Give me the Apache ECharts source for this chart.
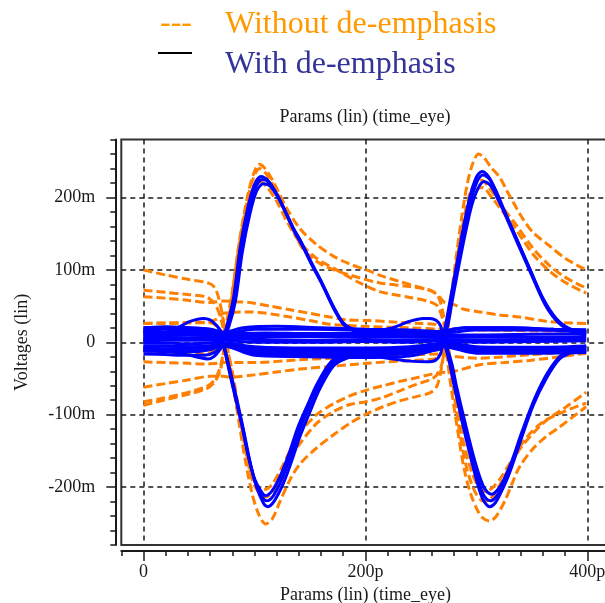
<!DOCTYPE html>
<html>
<head>
<meta charset="utf-8">
<script src="https://cdn.jsdelivr.net/npm/echarts@6/dist/echarts.min.js"></script>
<style>
html,body{margin:0;padding:0;background:#fff}
#chart{width:605px;height:603px}
</style>
</head>
<body>
<div id="chart"></div>
<script>
// Eye diagram: time in ps (x), voltage in mV (y). Each trace is a list of [t, v] points.

const xTickValues = [0, 200, 400];
const yTickValues = [-200, -100, 0, 100, 200];
const titleText = 'Params (lin) (time_eye)';
const yName = 'Voltages (lin)';
const legendOrange = 'Without de-emphasis';
const legendBlue = 'With de-emphasis';

// ---------- without de-emphasis (dashed orange) ----------
const o1 = [[0,100],[20,93],[40,87],[58,82],[64,76],[68,60],[72,30],[76,-10],[80,-50],[86,-110],[92,-165],[98,-210],[104,-238],[110,-251],[116,-244],[123,-220],[132,-190],[141,-168],[156,-146],[171,-128],[186,-112],[201,-99],[216,-89],[231,-81],[246,-75],[258,-70],[264,-62],[268,-40],[272,0],[277,60],[282,120],[287,175],[292,220],[297,248],[302,260],[307,255],[313,242],[321,228],[328,208],[336,186],[343,168],[351,152],[366,133],[381,115],[399,100]];
const o2 = [[0,72],[20,69],[40,66],[56,63],[62,57],[67,45],[71,25],[75,-5],[80,-40],[86,-95],[92,-150],[98,-190],[104,-208],[110,-214],[116,-208],[123,-190],[132,-160],[141,-140],[156,-112],[171,-96],[186,-86],[201,-82],[216,-76],[231,-67],[246,-58],[258,-52],[264,-46],[268,-35],[272,-5],[277,50],[282,110],[288,165],[294,205],[300,222],[305,224],[311,214],[318,200],[326,182],[336,162],[351,130],[366,106],[381,89],[399,75]];
const o3 = [[0,63],[20,61],[40,58],[60,55],[72,57],[84,56],[96,55],[114,50],[132,45],[150,40],[168,35],[183,31],[204,30],[226,28],[250,26],[262,25],[268,18],[272,-5],[277,-60],[283,-120],[289,-175],[295,-210],[301,-232],[306,-243],[312,-247],[318,-240],[326,-218],[333,-192],[339,-172],[351,-147],[363,-130],[375,-117],[387,-103],[399,-89]];
const o4 = [[0,-62],[20,-57],[40,-52],[60,-47],[72,-47],[78,-48],[100,-45],[120,-41],[141,-37],[171,-33],[201,-29],[240,-25],[262,-23],[268,-15],[272,5],[278,60],[284,120],[290,168],[296,198],[301,212],[306,214],[312,204],[320,188],[330,168],[340,146],[352,120],[367,97],[382,81],[399,68]];
const o5 = [[0,-87],[18,-80],[42,-71],[57,-64],[64,-55],[69,-40],[72,-15],[76,25],[80,65],[85,125],[90,172],[95,210],[100,236],[104,246],[109,241],[117,222],[128,188],[141,157],[156,135],[171,119],[186,108],[201,100],[216,91],[231,84],[246,77],[261,70],[266,62],[270,40],[274,0],[279,-60],[285,-125],[292,-178],[300,-210],[307,-220],[313,-216],[320,-200],[330,-172],[339,-148],[351,-126],[363,-108],[381,-89],[399,-69]];
const o6 = [[0,-82],[15,-78],[30,-73],[45,-67],[57,-61],[64,-52],[69,-35],[73,-5],[78,40],[84,110],[90,168],[96,212],[101,234],[105,240],[111,232],[120,208],[132,165],[144,128],[156,112],[165,104],[186,93],[213,82],[240,77],[258,72],[266,64],[272,54],[280,52],[288,46],[303,42],[320,38],[339,35],[363,29],[381,27],[399,26]];
const o7 = [[0,26],[20,27],[40,27],[60,27],[66,22],[70,10],[74,-15],[80,-55],[86,-105],[92,-150],[98,-185],[104,-200],[110,-203],[116,-196],[124,-175],[132,-150],[141,-125],[156,-100],[171,-85],[186,-74],[201,-66],[216,-60],[231,-54],[246,-49],[260,-44],[268,-42],[280,-40],[303,-31],[325,-28],[348,-25],[375,-20],[399,-15]];
const o8 = [[0,-12],[20,-13],[40,-15],[56,-16],[64,-10],[70,5],[75,30],[80,70],[87,140],[94,190],[100,214],[105,222],[111,215],[120,195],[130,165],[141,138],[156,116],[174,100],[195,82],[213,70],[240,62],[258,56],[265,50],[270,30],[275,-10],[281,-70],[288,-135],[296,-180],[303,-202],[309,-206],[315,-200],[323,-185],[333,-160],[345,-132],[360,-110],[380,-95],[399,-84]];
const o9 = [[0,-27],[20,-28],[40,-29],[56,-30],[66,-29],[72,-28],[100,-28],[141,-24],[201,-20],[250,-17],[266,-16],[272,-18],[300,-22],[350,-17],[399,-12]];
const o10 = [[0,26],[20,26],[40,27],[58,28],[66,32],[72,40],[96,42],[132,35],[150,30],[168,25],[200,22],[240,20],[266,18],[272,17],[300,17],[350,16],[399,15]];

// ---------- with de-emphasis (solid blue), built from three time windows ----------
// window A: 0 .. 70 ps
const bATop  = [[0,20],[20,21],[40,20],[60,18],[70,14]];
const bAa    = [[0,17],[20,18],[40,17],[60,16],[70,12]];
const bA2    = [[0,14],[20,14],[40,15],[60,13],[70,11]];
const bAb    = [[0,11],[20,12],[40,12],[60,11],[70,9]];
const bA3    = [[0,8],[20,9],[40,10],[60,9],[70,7]];
const bAc    = [[0,5],[20,6],[40,6],[60,6],[70,5]];
const bA4    = [[0,2],[20,3],[40,3],[60,3],[70,4]];
const bAd    = [[0,-1],[20,-1],[40,-2],[60,-1],[70,2]];
const bA5    = [[0,-5],[20,-5],[40,-6],[60,-5],[70,-1]];
const bAe    = [[0,-8],[20,-9],[40,-9],[60,-8],[70,-2]];
const bA6    = [[0,-12],[20,-12],[40,-13],[60,-10],[70,-4]];
const bAf    = [[0,-16],[20,-17],[40,-18],[55,-18],[64,-14],[70,-6]];
const bABump = [[0,10],[20,14],[33,22],[42,29],[54,33],[60,31],[66,23],[70,15]];
const bADip  = [[0,-11],[20,-13],[33,-15],[50,-21],[58,-23],[64,-19],[70,-8]];

// window B: 72 .. 268 ps
const bP1a = [[72,11],[75,22],[81,60],[87,130],[94,186],[100,218],[106,229],[112,224],[120,205],[128,180],[135,158],[141,142],[150,114],[159,88],[171,50],[180,27],[190,18],[210,16],[240,15],[268,12]];
const bP1b = [[72,9],[76,22],[82,60],[88,128],[95,182],[101,214],[107,225],[113,221],[121,202],[129,177],[136,154],[142,138],[151,110],[160,84],[172,46],[181,24],[192,16],[210,14],[240,13],[268,11]];
const bP1c = [[72,7],[77,22],[83,58],[89,124],[96,178],[102,209],[108,219],[114,216],[122,198],[130,173],[137,150],[143,134],[152,106],[161,80],[173,42],[182,22],[194,14],[210,12],[240,11],[268,9]];
const bT1a = [[72,-2],[74,-14],[79,-45],[85,-85],[90,-120],[96,-165],[102,-200],[108,-222],[112,-227],[118,-219],[126,-195],[134,-162],[141,-130],[150,-96],[159,-64],[171,-33],[183,-22],[201,-16],[240,-13],[268,-9]];
const bT1b = [[72,-4],[74,-14],[78,-42],[84,-82],[89,-115],[95,-160],[101,-195],[107,-214],[111,-219],[117,-212],[125,-188],[133,-156],[140,-124],[149,-90],[158,-60],[170,-30],[182,-19],[201,-14],[240,-12],[268,-8]];
const bT1c = [[72,-3],[73,-10],[77,-38],[83,-78],[88,-110],[94,-154],[100,-188],[106,-206],[110,-212],[116,-205],[124,-182],[132,-150],[139,-118],[148,-86],[157,-56],[169,-27],[181,-17],[201,-12],[240,-10],[268,-7]];
const bBF1 = [[72,14],[90,20],[120,22],[160,20],[200,18],[240,17],[268,15]];
const bBF6 = [[72,12],[100,18],[150,18],[200,17],[240,16],[268,13]];
const bBF2 = [[72,10],[100,12],[150,12],[200,11],[240,10],[268,9]];
const bBF7 = [[72,8],[100,8],[150,8],[200,8],[240,7],[268,7]];
const bBF3 = [[72,5],[100,4],[150,3],[200,4],[240,3],[268,4]];
const bBF8 = [[72,3],[100,0],[150,0],[200,1],[240,0],[268,2]];
const bBF4 = [[72,-1],[100,-6],[150,-8],[200,-8],[240,-6],[268,-1]];
const bBF9 = [[72,-1],[100,-9],[150,-11],[200,-11],[240,-9],[268,-3]];
const bBF5 = [[72,-4],[100,-12],[150,-14],[200,-14],[240,-12],[268,-5]];
const bBF10 = [[72,-2],[100,-15],[150,-17],[200,-17],[240,-15],[268,-6]];
const bBF11 = [[72,-5],[100,-18],[150,-20],[200,-21],[240,-19],[268,-8]];
const bBBump = [[72,12],[110,13],[150,12],[200,14],[222,19],[240,29],[252,33],[258,33],[264,30],[268,22]];
const bBDip  = [[72,-4],[110,-10],[150,-15],[200,-18],[225,-23],[240,-26],[255,-27],[263,-25],[268,-15]];

// window C: 270 .. 400 ps
const bP2a = [[270,12],[272,22],[276,55],[282,105],[288,156],[294,200],[300,228],[305,236],[311,229],[318,208],[324,186],[336,144],[348,102],[360,61],[372,33],[384,19],[399,14]];
const bP2b = [[270,10],[273,22],[277,55],[283,105],[289,154],[295,196],[301,223],[306,231],[312,225],[319,204],[325,182],[337,140],[349,98],[361,57],[373,30],[385,17],[399,12]];
const bP2c = [[270,9],[274,22],[278,55],[284,104],[290,150],[296,190],[302,214],[307,222],[313,216],[320,196],[326,176],[338,134],[350,92],[362,52],[374,27],[386,15],[399,10]];
const bT2a = [[270,2],[272,-6],[276,-30],[280,-60],[288,-115],[297,-172],[304,-210],[308,-222],[312,-227],[317,-222],[322,-208],[330,-180],[339,-140],[351,-88],[363,-50],[375,-23],[387,-13],[399,-8]];
const bT2b = [[270,1],[273,-8],[277,-30],[281,-60],[289,-114],[298,-170],[305,-206],[309,-216],[313,-219],[318,-213],[323,-200],[331,-172],[340,-132],[352,-82],[364,-45],[376,-20],[388,-11],[399,-6]];
const bT2c = [[270,0],[274,-10],[278,-30],[282,-60],[290,-112],[299,-166],[306,-198],[310,-207],[314,-210],[319,-204],[324,-192],[332,-164],[341,-124],[353,-76],[365,-40],[377,-17],[389,-9],[399,-5]];
const bCF1 = [[270,15],[290,20],[330,20],[370,18],[399,17]];
const bCF6 = [[270,13],[300,17],[350,17],[399,15]];
const bCF2 = [[270,10],[300,10],[350,11],[399,12]];
const bCF7 = [[270,7],[300,7],[350,7],[399,8]];
const bCF3 = [[270,4],[300,3],[350,4],[399,5]];
const bCF8 = [[270,2],[300,0],[350,1],[399,2]];
const bCF4 = [[270,0],[300,-6],[350,-7],[399,-5]];
const bCF9 = [[270,-3],[300,-9],[350,-10],[399,-9]];
const bCF5 = [[270,-5],[300,-12],[350,-13],[399,-12]];
const bCF10 = [[270,-6],[300,-15],[350,-15],[399,-14]];

const orangeTraces = [o1, o2, o3, o4, o5, o6, o7, o8, o9, o10];
const blueTraces = [
  [bABump, bP1a, bP2a],
  [bA2, bP1b, bT2a],
  [bA3, bP1c, bCF1],
  [bADip, bT1a, bP2b],
  [bA5, bT1b, bT2b],
  [bA6, bT1c, bCF5],
  [bATop, bBBump, bP2c],
  [bA4, bBDip, bT2c],
  [bATop, bBF1, bCF1],
  [bA2, bBF2, bCF2],
  [bA3, bBF3, bCF3],
  [bA5, bBF4, bCF4],
  [bA6, bBF5, bCF5],
  [bAa, bBF6, bCF6],
  [bAb, bBF7, bCF7],
  [bAc, bBF8, bCF8],
  [bAd, bBF9, bCF9],
  [bAe, bBF10, bCF10],
  [bAf, bBF11, bCF5]
].map(parts => [].concat(...parts));

const ORANGE = '#ff8000';
const BLUE = '#0000ff';
const INK = '#1a1a1a';
const SERIF = '"Liberation Serif", "Times New Roman", serif';

const series = [];
orangeTraces.forEach(d => series.push({
  type: 'line', data: d, showSymbol: false, smooth: 0.3, silent: true,
  lineStyle: { color: ORANGE, width: 3, type: [9, 4] }
}));
blueTraces.forEach(d => series.push({
  type: 'line', data: d, showSymbol: false, smooth: 0.3, silent: true,
  lineStyle: { color: BLUE, width: 3 }
}));

const gridLine = { show: true, lineStyle: { color: INK, width: 1.5, type: [5, 4] } };

const option = {
  animation: false,
  backgroundColor: '#ffffff',
  grid: {
    left: 121.3, right: -4.5, top: 139.6, bottom: 58,
    outerBoundsMode: 'none', containLabel: false,
    show: true, backgroundColor: '#ffffff', borderColor: '#333', borderWidth: 2
  },
  xAxis: [
    {
      type: 'value', min: -20, max: 420, interval: 20, position: 'bottom', offset: 6,
      axisLine: { show: true, onZero: false, lineStyle: { color: INK, width: 2 } },
      axisTick: { show: true, length: 5, lineStyle: { color: INK, width: 1.5 } },
      axisLabel: { show: false }, splitLine: { show: false }
    },
    {
      type: 'value', min: -20, max: 420, position: 'bottom', offset: 6,
      axisLine: { show: false, onZero: false },
      axisTick: { show: true, length: 10, customValues: xTickValues, lineStyle: { color: INK, width: 1.5 } },
      axisLabel: {
        customValues: xTickValues, margin: 12, color: INK,
        fontFamily: SERIF, fontSize: 18,
        formatter: v => v === 0 ? '0' : v + 'p'
      },
      splitLine: gridLine,
      name: titleText, nameLocation: 'middle', nameGap: 30,
      nameTextStyle: { color: INK, fontFamily: SERIF, fontSize: 18 }
    }
  ],
  yAxis: [
    {
      type: 'value', min: -280, max: 280, interval: 20, position: 'left', offset: 6,
      axisLine: { show: true, onZero: false, lineStyle: { color: INK, width: 2 } },
      axisTick: { show: true, length: 5, lineStyle: { color: INK, width: 1.5 } },
      axisLabel: { show: false }, splitLine: { show: false }
    },
    {
      type: 'value', min: -280, max: 280, position: 'left', offset: 6,
      axisLine: { show: false, onZero: false },
      axisTick: { show: true, length: 9, customValues: yTickValues, lineStyle: { color: INK, width: 1.5 } },
      axisLabel: {
        customValues: yTickValues, margin: 20, color: INK,
        fontFamily: SERIF, fontSize: 18,
        formatter: v => v === 0 ? '0' : v + 'm'
      },
      splitLine: gridLine,
      name: yName, nameLocation: 'middle', nameGap: 84,
      nameTextStyle: { color: INK, fontFamily: SERIF, fontSize: 18 }
    }
  ],
  graphic: [
    { type: 'text', x: 365, y: 117, style: { text: titleText, fill: INK, font: '18px ' + SERIF, align: 'center', verticalAlign: 'middle' } },
    { type: 'text', x: 160, y: 24, style: { text: '---', fill: '#ff9900', font: '32px ' + SERIF, align: 'left', verticalAlign: 'middle' } },
    { type: 'text', x: 225, y: 25, style: { text: legendOrange, fill: '#ff9900', font: '32px ' + SERIF, align: 'left', verticalAlign: 'middle' } },
    { type: 'line', shape: { x1: 158, y1: 53, x2: 192, y2: 53 }, style: { stroke: '#000', lineWidth: 2 } },
    { type: 'text', x: 225, y: 65, style: { text: legendBlue, fill: '#333399', font: '32px ' + SERIF, align: 'left', verticalAlign: 'middle' } }
  ],
  series: series
};

const chart = echarts.init(document.getElementById('chart'), null, { renderer: 'canvas' });
chart.setOption(option);
</script>
</body>
</html>
